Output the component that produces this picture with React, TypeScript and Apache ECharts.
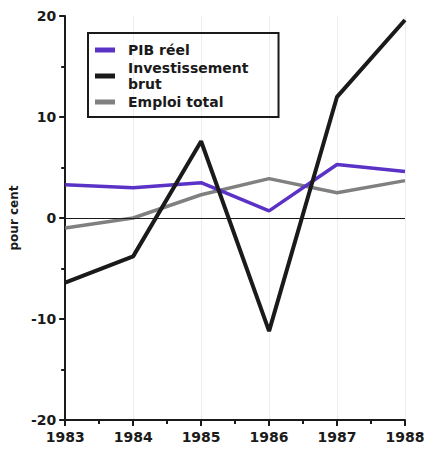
import React, { useEffect, useRef } from "react";
import * as echarts from "echarts";

const years = [1983, 1984, 1985, 1986, 1987, 1988];
const pibReel = [3.3, 3.0, 3.5, 0.7, 5.3, 4.6];
const investissementBrut = [-6.4, -3.8, 7.6, -11.2, 12.0, 19.6];
const emploiTotal = [-1.0, 0.0, 2.3, 3.9, 2.5, 3.7];
const yTicks = [-20, -10, 0, 10, 20];

const FONT = "DejaVu Sans";

export default function App() {
  const ref = useRef<HTMLDivElement>(null);
  useEffect(() => {
    if (!ref.current) return;
    const chart = echarts.init(ref.current, undefined, { renderer: "svg" });
    const pairs = (vals: number[]) => years.map((y, i) => [y, vals[i]]);
    chart.setOption({
      animation: false,
      backgroundColor: "#ffffff",
      grid: { left: 63, right: 26, top: 16, bottom: 36 },
      legend: {
        orient: "vertical",
        left: 88,
        top: 33,
        padding: [9, 30, 7, 7],
        borderColor: "#1a1a1a",
        borderWidth: 2,
        itemWidth: 20,
        itemHeight: 5,
        itemGap: 2,
        icon: "rect",
        data: [
          { name: "PIB réel", itemStyle: { color: "#5b32c6" } },
          { name: "Investissement\nbrut", itemStyle: { color: "#1a1a1a" } },
          { name: "Emploi total", itemStyle: { color: "#808080" } },
        ],
        textStyle: {
          fontFamily: FONT,
          fontWeight: "bold",
          fontSize: 14,
          lineHeight: 16,
          color: "#1a1a1a",
          padding: [0, 0, 0, 8],
        },
      },
      xAxis: {
        type: "value",
        min: years[0],
        max: years[years.length - 1],
        interval: 1,
        axisLine: { onZero: false, lineStyle: { color: "#1a1a1a", width: 2 } },
        axisTick: { show: true, inside: false, length: 6, lineStyle: { color: "#1a1a1a", width: 2 } },
        minorTick: { show: true, splitNumber: 2, length: 4, lineStyle: { color: "#1a1a1a", width: 2 } },
        splitLine: { show: true, lineStyle: { color: "#eeeeee", width: 1 } },
        axisLabel: {
          fontFamily: FONT,
          fontWeight: "bold",
          fontSize: 14,
          color: "#1a1a1a",
          margin: 10,
          formatter: (v: number) => String(v),
        },
      },
      yAxis: {
        type: "value",
        min: yTicks[0],
        max: yTicks[yTicks.length - 1],
        interval: 10,
        name: "pour cent",
        nameLocation: "middle",
        nameRotate: 90,
        nameGap: 40,
        nameTextStyle: { fontFamily: FONT, fontWeight: "bold", fontSize: 12, color: "#1a1a1a" },
        axisLine: { show: true, lineStyle: { color: "#1a1a1a", width: 2 } },
        axisTick: { show: true, inside: false, length: 6, lineStyle: { color: "#1a1a1a", width: 2 } },
        minorTick: { show: true, splitNumber: 2, length: 4, lineStyle: { color: "#1a1a1a", width: 2 } },
        splitLine: { show: false },
        axisLabel: {
          fontFamily: FONT,
          fontWeight: "bold",
          fontSize: 14,
          color: "#1a1a1a",
          margin: 9,
        },
      },
      series: [
        {
          name: "PIB réel",
          type: "line",
          data: pairs(pibReel),
          showSymbol: false,
          lineStyle: { color: "#5b32c6", width: 3.5 },
          itemStyle: { color: "#5b32c6" },
          z: 3,
          markLine: {
            silent: true,
            symbol: "none",
            label: { show: false },
            lineStyle: { color: "#1a1a1a", width: 1.2, type: "solid" },
            data: [{ yAxis: 0 }],
          },
        },
        {
          name: "Investissement\nbrut",
          type: "line",
          data: pairs(investissementBrut),
          showSymbol: false,
          lineStyle: { color: "#1a1a1a", width: 4 },
          itemStyle: { color: "#1a1a1a" },
          z: 4,
        },
        {
          name: "Emploi total",
          type: "line",
          data: pairs(emploiTotal),
          showSymbol: false,
          lineStyle: { color: "#808080", width: 3.5 },
          itemStyle: { color: "#808080" },
          z: 2,
        },
      ],
    });
    return () => chart.dispose();
  }, []);
  return <div ref={ref} style={{ width: 431, height: 456, position: "absolute", left: 0, top: 0 }} />;
}
